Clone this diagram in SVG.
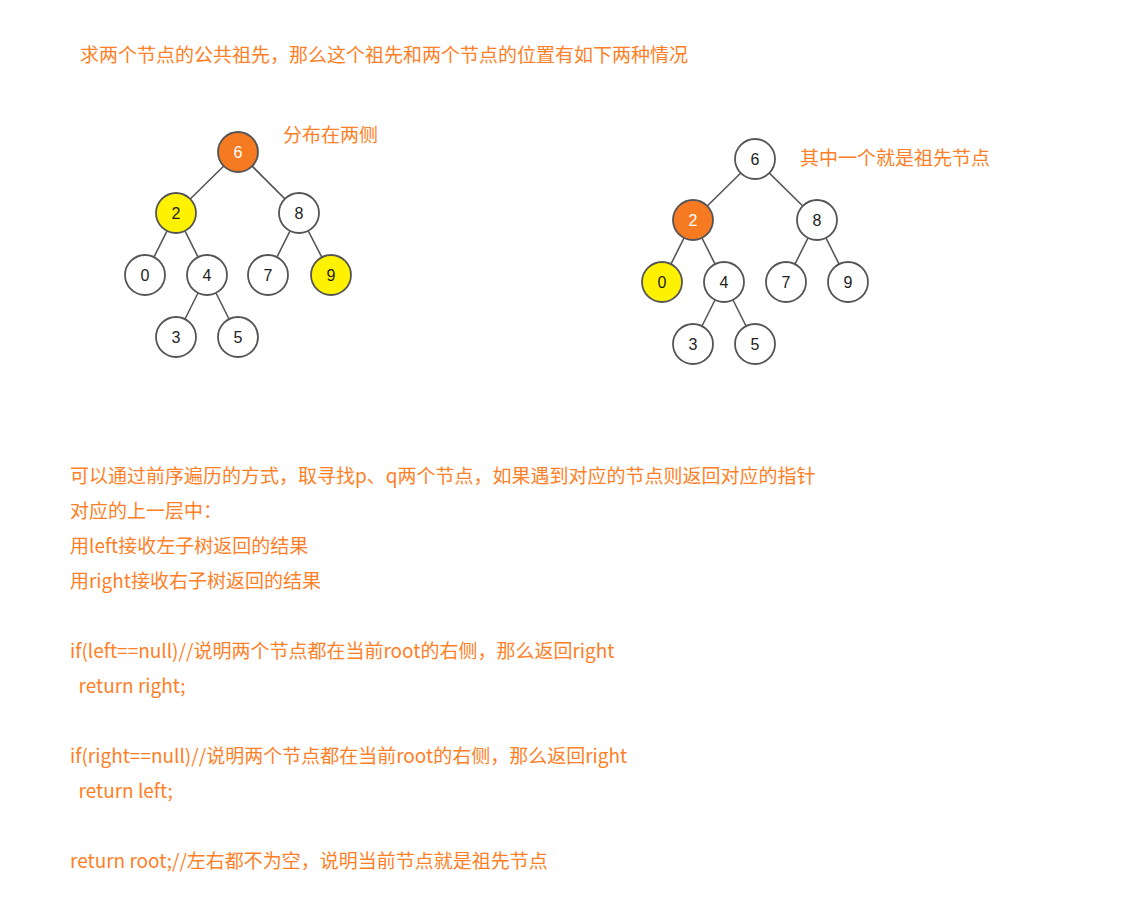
<svg xmlns="http://www.w3.org/2000/svg" width="1127" height="911" viewBox="0 0 1127 911">
<style>
text.t{font-family:"Noto Sans CJK SC","Microsoft YaHei",sans-serif;font-size:19px;fill:#ff7f27}
.n circle{stroke:#555;stroke-width:1.8;fill:#fff}
.n text{font-family:"Liberation Sans",Arial,sans-serif;font-size:16px;fill:#222;text-anchor:middle;dominant-baseline:central}
.e line{stroke:#555;stroke-width:1.6}
</style>
<rect width="1127" height="911" fill="#fff"/>
<text class="t" x="80" y="62">求两个节点的公共祖先，那么这个祖先和两个节点的位置有如下两种情况</text>
<text class="t" x="283" y="142">分布在两侧</text>
<text class="t" x="800" y="165">其中一个就是祖先节点</text>
<g class="e">
<line x1="238" y1="152" x2="176" y2="213"/><line x1="238" y1="152" x2="299" y2="213"/>
<line x1="176" y1="213" x2="145" y2="275"/><line x1="176" y1="213" x2="207" y2="275"/>
<line x1="299" y1="213" x2="268" y2="275"/><line x1="299" y1="213" x2="331" y2="275"/>
<line x1="207" y1="275" x2="176" y2="337"/><line x1="207" y1="275" x2="238" y2="337"/>
<line x1="755" y1="159" x2="693" y2="220"/><line x1="755" y1="159" x2="817" y2="220"/>
<line x1="693" y1="220" x2="662" y2="282"/><line x1="693" y1="220" x2="724" y2="282"/>
<line x1="817" y1="220" x2="786" y2="282"/><line x1="817" y1="220" x2="848" y2="282"/>
<line x1="724" y1="282" x2="693" y2="344"/><line x1="724" y1="282" x2="755" y2="344"/>
</g>
<g id="L6" class="n"><circle cx="238" cy="152" r="20" style="fill:#f57a22"/><text x="238" y="152" style="fill:#fff">6</text></g>
<g id="L2" class="n"><circle cx="176" cy="213" r="20" style="fill:#fff200"/><text x="176" y="213">2</text></g>
<g id="L8" class="n"><circle cx="299" cy="213" r="20"/><text x="299" y="213">8</text></g>
<g id="L0" class="n"><circle cx="145" cy="275" r="20"/><text x="145" y="275">0</text></g>
<g id="L4" class="n"><circle cx="207" cy="275" r="20"/><text x="207" y="275">4</text></g>
<g id="L7" class="n"><circle cx="268" cy="275" r="20"/><text x="268" y="275">7</text></g>
<g id="L9" class="n"><circle cx="331" cy="275" r="20" style="fill:#fff200"/><text x="331" y="275">9</text></g>
<g id="L3" class="n"><circle cx="176" cy="337" r="20"/><text x="176" y="337">3</text></g>
<g id="L5" class="n"><circle cx="238" cy="337" r="20"/><text x="238" y="337">5</text></g>
<g id="R6" class="n"><circle cx="755" cy="159" r="20"/><text x="755" y="159">6</text></g>
<g id="R2" class="n"><circle cx="693" cy="220" r="20" style="fill:#f57a22"/><text x="693" y="220" style="fill:#fff">2</text></g>
<g id="R8" class="n"><circle cx="817" cy="220" r="20"/><text x="817" y="220">8</text></g>
<g id="R0" class="n"><circle cx="662" cy="282" r="20" style="fill:#fff200"/><text x="662" y="282">0</text></g>
<g id="R4" class="n"><circle cx="724" cy="282" r="20"/><text x="724" y="282">4</text></g>
<g id="R7" class="n"><circle cx="786" cy="282" r="20"/><text x="786" y="282">7</text></g>
<g id="R9" class="n"><circle cx="848" cy="282" r="20"/><text x="848" y="282">9</text></g>
<g id="R3" class="n"><circle cx="693" cy="344" r="20"/><text x="693" y="344">3</text></g>
<g id="R5" class="n"><circle cx="755" cy="344" r="20"/><text x="755" y="344">5</text></g>
<text class="t" x="70" y="483">可以通过前序遍历的方式，取寻找p、q两个节点，如果遇到对应的节点则返回对应的指针</text>
<text class="t" x="70" y="518">对应的上一层中：</text>
<text class="t" x="70" y="553">用left接收左子树返回的结果</text>
<text class="t" x="70" y="588">用right接收右子树返回的结果</text>
<text class="t" x="70" y="658">if(left==null)//说明两个节点都在当前root的右侧，那么返回right</text>
<text class="t" x="70" y="693" xml:space="preserve">  return right;</text>
<text class="t" x="70" y="763">if(right==null)//说明两个节点都在当前root的右侧，那么返回right</text>
<text class="t" x="70" y="798" xml:space="preserve">  return left;</text>
<text class="t" x="70" y="868">return root;//左右都不为空，说明当前节点就是祖先节点</text>
</svg>
